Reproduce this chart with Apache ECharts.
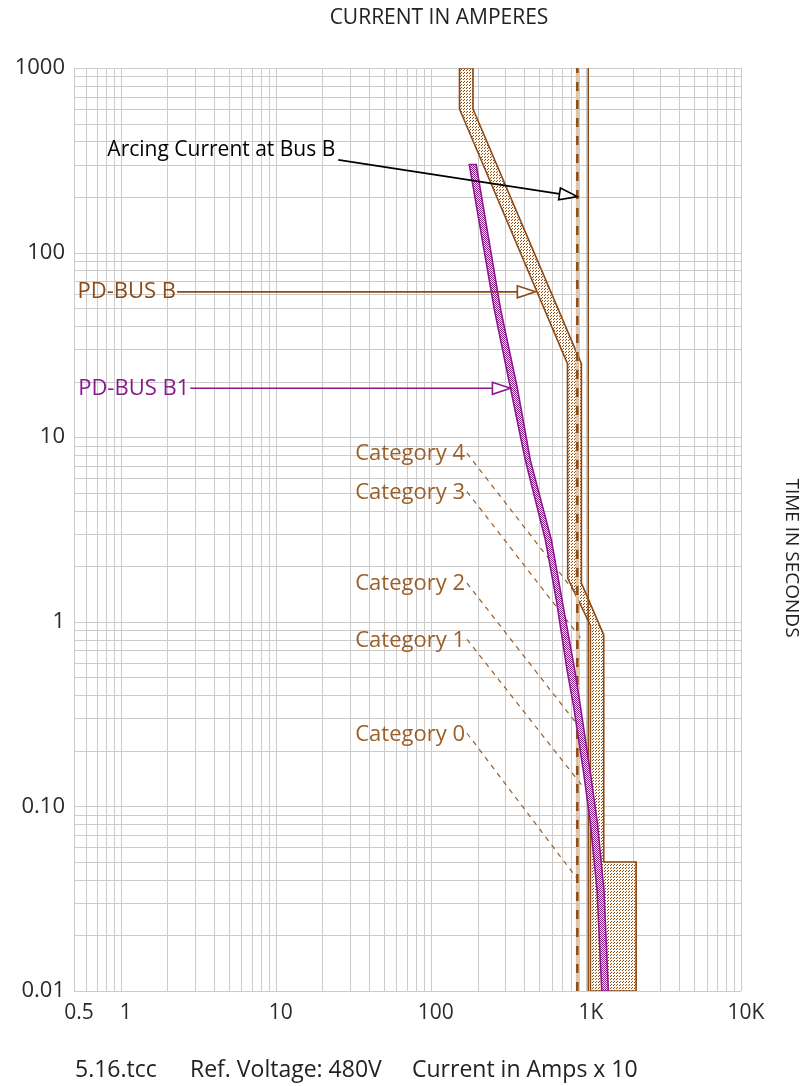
<!DOCTYPE html>
<html>
<head>
<meta charset="utf-8">
<script src="https://cdn.jsdelivr.net/npm/echarts@6/dist/echarts.min.js"></script>
<style>
  html, body { margin: 0; padding: 0; background: #ffffff; }
  #chart { width: 804px; height: 1086px; }
</style>
</head>
<body>
<div id="chart"></div>
<script>
// ---- Axis ticks ----
const xTickValues = [0.5, 1, 10, 100, 1000, 10000];
const xTickLabels = ['0.5', '1', '10', '100', '1K', '10K'];
const yTickValues = [0.01, 0.1, 1, 10, 100, 1000];
const yTickLabels = ['0.01', '0.10', '1', '10', '100', '1000'];

// ---- PD-BUS B breaker band (amperes, seconds) ----
const busBMinCurrent = [153, 153, 760, 763, 1069, 1069];
const busBMinTime    = [1000, 600, 25, 1.72, 0.96, 0.01];
const busBMaxCurrent = [187, 187, 935, 935, 1303, 1303, 2108, 2108];
const busBMaxTime    = [1000, 600, 25, 1.62, 0.85, 0.05, 0.05, 0.01];

// ---- PD-BUS B1 band (amperes, seconds) ----
const busB1Time       = [300, 49, 18.5, 7.5, 2.77, 1.31, 0.548, 0.347, 0.151, 0.081, 0.035, 0.01];
const busB1MinCurrent = [177, 257, 326, 407, 548, 645, 756, 834, 968, 1069, 1181, 1265];
const busB1MaxCurrent = [196, 282, 361, 438, 599, 702, 847, 922, 1069, 1186, 1307, 1395];

// ---- Vertical current markers (amperes) ----
const arcingCurrent = 880;
const boltedCurrent = 1035;

// ---- Arc-flash category leaders ----
const categoryNames        = ['Category 4', 'Category 3', 'Category 2', 'Category 1', 'Category 0'];
const categoryStartCurrent = [171, 171, 171, 171, 171];
const categoryStartTime    = [8.19, 5.07, 1.62, 0.804, 0.249];
const categoryEndCurrent   = [935, 935, 935, 935, 935];
const categoryEndTime      = [1.30, 0.807, 0.26, 0.131, 0.0379];

// ---- Arrow callouts ----
const calloutTexts        = ['Arcing Current at Bus B', 'PD-BUS B', 'PD-BUS B1'];
const calloutStartCurrent = [25.3, 2.31, 2.81];
const calloutStartTime    = [318, 61.3, 18.4];
const calloutEndCurrent   = [880, 472, 326];
const calloutEndTime      = [201, 61.3, 18.4];

// ---- Footer note pieces ----
const footerParts = ['5.16.tcc', 'Ref. Voltage: 480V', 'Current in Amps x 10'];

const BROWN = '#8b4a16';
const BROWN_TEXT = '#9a5e28';
const PURPLE = '#8a1a8a';
const GRID = '#cbcbcb';
const FONT = '"Open Sans", "DejaVu Sans", sans-serif';

// Gridline positions: every 1..9 multiple of each decade inside the range
function logGrid(lo, hi) {
  const out = [];
  for (let e = -3; e <= 5; e++) {
    for (let m = 1; m <= 9; m++) {
      const v = +(m * Math.pow(10, e)).toPrecision(6);
      if (v >= lo * 0.9999 && v <= hi * 1.0001) out.push(v);
    }
  }
  return out;
}
const xGrid = logGrid(0.5, 10000);
const yGrid = logGrid(0.01, 1000);

function tickLabel(values, labels) {
  return function (v) {
    for (let i = 0; i < values.length; i++) {
      if (Math.abs(Math.log10(v) - Math.log10(values[i])) < 1e-6) return labels[i];
    }
    return '';
  };
}

// Fill patterns for the bands
function hatchPattern() {
  const c = document.createElement('canvas');
  c.width = 3; c.height = 3;
  const g = c.getContext('2d');
  g.fillStyle = '#fffaf2';
  g.fillRect(0, 0, 3, 3);
  g.fillStyle = BROWN;
  g.fillRect(2, 0, 1, 1);
  g.fillRect(1, 1, 1, 1);
  return { image: c, repeat: 'repeat' };
}
function checkerPattern() {
  const c = document.createElement('canvas');
  c.width = 2; c.height = 2;
  const g = c.getContext('2d');
  g.fillStyle = '#ffffff';
  g.fillRect(0, 0, 2, 2);
  g.fillStyle = PURPLE;
  g.fillRect(0, 0, 1, 1);
  g.fillRect(1, 1, 1, 1);
  return { image: c, repeat: 'repeat' };
}

const crisp = v => Math.round(v) + 0.5;

// Band polygon: one boundary top->bottom, the other bottom->top
function bandSeries(name, xsA, ysA, xsB, ysB, stroke, fill, z) {
  return {
    type: 'custom', name: name, z: z, clip: true, silent: true,
    data: xsA.map((x, i) => [x, ysA[i]]),
    encode: { x: 0, y: 1 },
    renderItem: function (params, api) {
      if (params.dataIndex !== 0) return null;
      const pts = [];
      for (let i = 0; i < xsA.length; i++) pts.push(api.coord([xsA[i], ysA[i]]));
      for (let i = xsB.length - 1; i >= 0; i--) pts.push(api.coord([xsB[i], ysB[i]]));
      return {
        type: 'polygon',
        shape: { points: pts },
        style: { fill: fill, stroke: stroke, lineWidth: 1.6, lineJoin: 'miter' }
      };
    }
  };
}

function arrowHead(p1, p2, color) {
  const dx = p2[0] - p1[0], dy = p2[1] - p1[1];
  const len = Math.sqrt(dx * dx + dy * dy);
  const ux = dx / len, uy = dy / len;
  const L = 18, W = 6;
  const bx = p2[0] - ux * L, by = p2[1] - uy * L;
  return {
    base: [bx, by],
    shape: {
      type: 'polygon',
      shape: { points: [[p2[0], p2[1]], [bx - uy * W, by + ux * W], [bx + uy * W, by - ux * W]] },
      style: { fill: '#ffffff', stroke: color, lineWidth: 1.6 }
    }
  };
}

const calloutColors = ['#000000', BROWN, PURPLE];
const footerX = [75, 190, 412];

const option = {
  animation: false,
  backgroundColor: '#ffffff',
  grid: { left: 74, top: 68, width: 667, height: 923 },
  xAxis: {
    type: 'log', logBase: 10, min: 0.5, max: 10000,
    axisLine: { show: false }, axisTick: { show: false }, splitLine: { show: false },
    axisLabel: {
      customValues: xTickValues,
      formatter: tickLabel(xTickValues, xTickLabels),
      margin: 12, padding: [0, 0, 0, 10],
      fontFamily: FONT, fontSize: 21, color: '#2a2a2a'
    }
  },
  yAxis: {
    type: 'log', logBase: 10, min: 0.01, max: 1000,
    axisLine: { show: false }, axisTick: { show: false }, splitLine: { show: false },
    axisLabel: {
      customValues: yTickValues,
      formatter: tickLabel(yTickValues, yTickLabels),
      margin: 9, fontFamily: FONT, fontSize: 22, color: '#2a2a2a'
    }
  },
  graphic: [
    { type: 'text', x: 439, y: 18, style: {
        text: 'CURRENT IN AMPERES', align: 'center', verticalAlign: 'middle',
        font: '21px ' + FONT, fill: '#222222' } },
    { type: 'text', x: 791, y: 558, rotation: -Math.PI / 2, style: {
        text: 'TIME IN SECONDS', align: 'center', verticalAlign: 'middle',
        font: '19px ' + FONT, fill: '#222222' } }
  ].concat(footerParts.map((t, i) => ({
    type: 'text', x: footerX[i], y: 1070, style: {
      text: t, align: 'left', verticalAlign: 'middle',
      font: '23px ' + FONT, fill: '#222222' }
  }))),
  series: [
    // log gridlines
    {
      type: 'custom', name: 'grid', z: 1, silent: true, clip: false,
      data: [[1, 1]], encode: { x: 0, y: 1 },
      renderItem: function (params, api) {
        const kids = [];
        const top = api.coord([1, 1000])[1], bottom = api.coord([1, 0.01])[1];
        const left = api.coord([0.5, 1])[0], right = api.coord([10000, 1])[0];
        xGrid.forEach(v => {
          const x = crisp(api.coord([v, 1])[0]);
          kids.push({ type: 'line', shape: { x1: x, y1: top, x2: x, y2: bottom },
            style: { stroke: GRID, lineWidth: 1 } });
        });
        yGrid.forEach(v => {
          const y = crisp(api.coord([1, v])[1]);
          kids.push({ type: 'line', shape: { x1: left, y1: y, x2: right, y2: y },
            style: { stroke: GRID, lineWidth: 1 } });
        });
        return { type: 'group', children: kids };
      }
    },
    // arc-flash category leaders
    {
      type: 'custom', name: 'categories', z: 2, silent: true, clip: false,
      data: categoryNames.map((n, i) => [categoryStartCurrent[i], categoryStartTime[i], categoryEndCurrent[i], categoryEndTime[i], i]),
      encode: { x: [0, 2], y: [1, 3] },
      renderItem: function (params, api) {
        const i = api.value(4);
        const p1 = api.coord([api.value(0), api.value(1)]);
        const p2 = api.coord([api.value(2), api.value(3)]);
        return { type: 'group', children: [
          { type: 'line', shape: { x1: p1[0], y1: p1[1], x2: p2[0], y2: p2[1] },
            style: { stroke: BROWN_TEXT, lineWidth: 1.2, lineDash: [5, 5] } },
          { type: 'text', x: p1[0] - 2, y: p1[1] + 1, style: {
              text: categoryNames[i], align: 'right', verticalAlign: 'middle',
              font: '22px ' + FONT, fill: BROWN_TEXT } }
        ] };
      }
    },
    bandSeries('PD-BUS B', busBMinCurrent, busBMinTime, busBMaxCurrent, busBMaxTime, BROWN, hatchPattern(), 3),
    // arcing current (dashed) and bolted current (solid) verticals
    {
      type: 'line', name: 'arcing-under', z: 4, silent: true, showSymbol: false,
      data: [[arcingCurrent, 0.01], [arcingCurrent, 1000]],
      lineStyle: { color: '#dcc4a8', width: 3 }
    },
    {
      type: 'line', name: 'arcing', z: 4, silent: true, showSymbol: false,
      data: [[arcingCurrent, 0.01], [arcingCurrent, 1000]],
      lineStyle: { color: BROWN, width: 2.5, type: [9, 9] }
    },
    {
      type: 'line', name: 'bolted', z: 4, silent: true, showSymbol: false,
      data: [[boltedCurrent, 0.01], [boltedCurrent, 1000]],
      lineStyle: { color: BROWN, width: 1.5 }
    },
    bandSeries('PD-BUS B1', busB1MinCurrent, busB1Time, busB1MaxCurrent, busB1Time, PURPLE, checkerPattern(), 5),
    // arrow callouts
    {
      type: 'custom', name: 'callouts', z: 6, silent: true, clip: false,
      data: calloutTexts.map((t, i) => [calloutStartCurrent[i], calloutStartTime[i], calloutEndCurrent[i], calloutEndTime[i], i]),
      encode: { x: [0, 2], y: [1, 3] },
      renderItem: function (params, api) {
        const i = api.value(4);
        const color = calloutColors[i];
        const p1 = api.coord([api.value(0), api.value(1)]);
        const p2 = api.coord([api.value(2), api.value(3)]);
        const head = arrowHead(p1, p2, color);
        const textEl = i === 0
          ? { type: 'text', x: p1[0] - 3, y: p1[1] - 10, style: {
                text: calloutTexts[i], align: 'right', verticalAlign: 'middle',
                font: '21px ' + FONT, fill: color } }
          : { type: 'text', x: p1[0] - 1, y: p1[1], style: {
                text: calloutTexts[i], align: 'right', verticalAlign: 'middle',
                font: '22px ' + FONT, fill: color } };
        return { type: 'group', children: [
          { type: 'line', shape: { x1: p1[0], y1: p1[1], x2: head.base[0], y2: head.base[1] },
            style: { stroke: color, lineWidth: 1.6 } },
          head.shape,
          textEl
        ] };
      }
    }
  ]
};

const chart = echarts.init(document.getElementById('chart'), null, { renderer: 'canvas' });
chart.setOption(option);
</script>
</body>
</html>
